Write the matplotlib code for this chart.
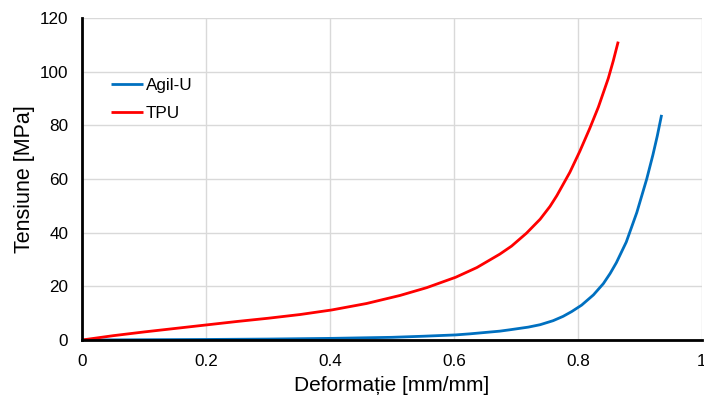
import matplotlib.pyplot as plt

plt.rcParams['font.family'] = ['Liberation Sans', 'DejaVu Sans']

# strain [mm/mm] and stress [MPa] for each material
tpu_strain = [0.0, 0.05, 0.1, 0.15, 0.2, 0.25, 0.3, 0.352, 0.403, 0.459, 0.513,
              0.556, 0.603, 0.637, 0.674, 0.693, 0.717, 0.739, 0.755,
              0.766, 0.787, 0.803, 0.819, 0.833, 0.849, 0.857, 0.865]
tpu_stress = [0.0, 1.6, 3.0, 4.3, 5.6, 6.9, 8.1, 9.5, 11.2, 13.6, 16.6,
              19.5, 23.4, 27.0, 32.0, 35.0, 39.8, 45.0, 49.8,
              53.8, 62.5, 70.3, 78.8, 86.8, 97.5, 104.0, 111.2]

agil_strain = [0.0, 0.1, 0.2, 0.3, 0.4, 0.5, 0.55, 0.603, 0.626, 0.674,
               0.69, 0.72, 0.739, 0.76, 0.776, 0.79, 0.806, 0.825, 0.841,
               0.852, 0.862, 0.878, 0.895, 0.911, 0.921, 0.928, 0.935]
agil_stress = [0.0, 0.1, 0.2, 0.35, 0.6, 1.0, 1.4, 1.9, 2.3, 3.3,
               3.8, 4.8, 5.7, 7.2, 8.8, 10.6, 13.0, 16.8, 21.0,
               24.8, 28.8, 36.5, 47.5, 60.0, 69.0, 76.0, 83.9]

x_ticks = [0, 0.2, 0.4, 0.6, 0.8, 1]
x_tick_labels = ['0', '0.2', '0.4', '0.6', '0.8', '1']
y_ticks = [0, 20, 40, 60, 80, 100, 120]

fig = plt.figure(figsize=(7.04, 4.0), dpi=100)
ax = fig.add_axes([0.1165, 0.15, 0.8805, 0.805])

ax.plot(agil_strain, agil_stress, color='#0070C0', lw=2.0, label='Agil-U',
        solid_capstyle='butt', solid_joinstyle='round', zorder=3)
ax.plot(tpu_strain, tpu_stress, color='#FF0000', lw=2.0, label='TPU',
        solid_capstyle='butt', solid_joinstyle='round', zorder=3)

ax.set_xlim(0, 1)
ax.set_ylim(0, 120)
ax.set_xticks(x_ticks)
ax.set_xticklabels(x_tick_labels)
ax.set_yticks(y_ticks)
ax.grid(True, color='#D9D9D9', lw=1.0)
ax.set_axisbelow(True)

for side in ['top', 'right']:
    ax.spines[side].set_visible(False)
for side in ['left', 'bottom']:
    ax.spines[side].set_linewidth(2.0)
    ax.spines[side].set_color('black')
    ax.spines[side].set_zorder(4)

ax.tick_params(length=0, labelsize=12.3, pad=10)
ax.set_xlabel('Deformație [mm/mm]', fontsize=15, labelpad=5)
ax.set_ylabel('Tensiune [MPa]', fontsize=15.5, labelpad=3)

ax.legend(loc='upper left', bbox_to_anchor=(0.022, 0.86), frameon=False,
          fontsize=12.3, handlelength=1.9, handletextpad=0.15, labelspacing=0.75)

fig.savefig('out.png', dpi=100)
